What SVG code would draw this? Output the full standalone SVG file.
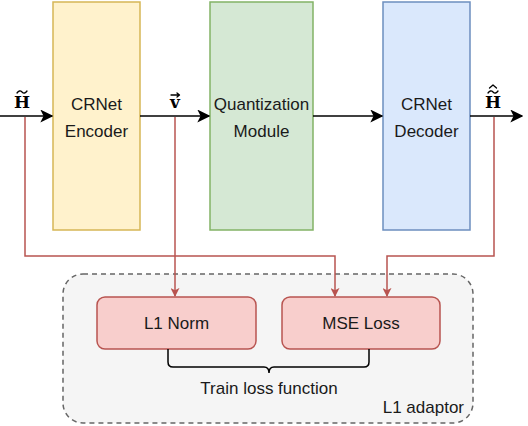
<svg xmlns="http://www.w3.org/2000/svg" width="528" height="426" viewBox="0 0 528 426">
<defs>
<style>
.lbl{font-family:"Liberation Sans",Arial,sans-serif;font-size:17px;fill:#1a1a1a;text-anchor:middle}
.math{font-family:"DejaVu Serif","Liberation Serif",serif;font-weight:bold;font-size:17px;fill:#000;text-anchor:middle}
.acc{fill:none;stroke:#000;stroke-width:1.3;stroke-linecap:round;stroke-linejoin:round}
.blk{stroke:#000;stroke-width:1.5;fill:none}
.red{stroke:#b85450;stroke-width:1.5;fill:none}
</style>
<marker id="ar" viewBox="0 0 10 10" refX="9" refY="5" markerWidth="9" markerHeight="9" markerUnits="userSpaceOnUse" orient="auto">
<path d="M0,0 L10,5 L0,10 L2.5,5 Z" fill="#b85450"/>
</marker>
<marker id="abk" viewBox="0 0 10 10" refX="9" refY="5" markerWidth="13" markerHeight="13" markerUnits="userSpaceOnUse" orient="auto">
<path d="M0,0 L10,5 L0,10 L2.5,5 Z" fill="#000"/>
</marker>
</defs>
<rect width="528" height="426" fill="#fff"/>
<g id="adaptor">
<rect x="63" y="274" width="410" height="149" rx="20" fill="#f5f5f5" stroke="#666" stroke-width="1.5" stroke-dasharray="5,4"/>
<text x="464" y="413" class="lbl" style="text-anchor:end">L1 adaptor</text>
</g>
<g id="encoder">
<rect x="53" y="2" width="87" height="228" fill="#fff2cc" stroke="#d6b656" stroke-width="1.5"/>
<text x="96.5" y="110" class="lbl">CRNet</text>
<text x="96.5" y="137" class="lbl">Encoder</text>
</g>
<g id="quant">
<rect x="210" y="2" width="103" height="228" fill="#d5e8d4" stroke="#82b366" stroke-width="1.5"/>
<text x="261.5" y="110" class="lbl">Quantization</text>
<text x="261.5" y="137" class="lbl">Module</text>
</g>
<g id="decoder">
<rect x="383" y="2" width="87" height="228" fill="#dae8fc" stroke="#6c8ebf" stroke-width="1.5"/>
<text x="426.5" y="110" class="lbl">CRNet</text>
<text x="426.5" y="137" class="lbl">Decoder</text>
</g>
<g id="l1norm">
<rect x="97" y="297" width="159" height="52" rx="8" fill="#f8cecc" stroke="#b85450" stroke-width="1.5"/>
<text x="176.5" y="329" class="lbl">L1 Norm</text>
</g>
<g id="mse">
<rect x="282" y="297" width="158" height="52" rx="8" fill="#f8cecc" stroke="#b85450" stroke-width="1.5"/>
<text x="361" y="329" class="lbl">MSE Loss</text>
</g>
<g id="labels">
<text x="22" y="108" class="math">H</text>
<path class="acc" d="M17,93 Q19.5,89.5 22,92 T27,91"/>
<text x="175" y="108" class="math">v</text>
<path class="acc" d="M171,95 L179,95 M177,93 L179.5,95 L177,97"/>
<text x="493" y="108" class="math">H</text>
<path class="acc" d="M488,93 Q490.5,89.5 493,92 T498,91"/>
<path class="acc" d="M489.5,88 L493,85 L496.5,88"/>
</g>
<g id="connectors">
<line x1="0" y1="116" x2="52" y2="116" class="blk" marker-end="url(#abk)"/>
<line x1="140" y1="116" x2="209" y2="116" class="blk" marker-end="url(#abk)"/>
<line x1="313" y1="116" x2="382" y2="116" class="blk" marker-end="url(#abk)"/>
<line x1="470" y1="116" x2="522" y2="116" class="blk" marker-end="url(#abk)"/>
<polyline points="25,117 25,256 335,256 335,296" class="red" marker-end="url(#ar)"/>
<polyline points="175,117 175,296" class="red" marker-end="url(#ar)"/>
<polyline points="494,117 494,256 387,256 387,296" class="red" marker-end="url(#ar)"/>
<path d="M168,349 L168,362 Q168,367 173,367 L264,367 Q269,367 269,373 Q269,367 274,367 L364,367 Q369,367 369,362 L369,349" fill="none" stroke="#000" stroke-width="1.5"/>
<text x="269" y="394" class="lbl">Train loss function</text>
</g>
</svg>
